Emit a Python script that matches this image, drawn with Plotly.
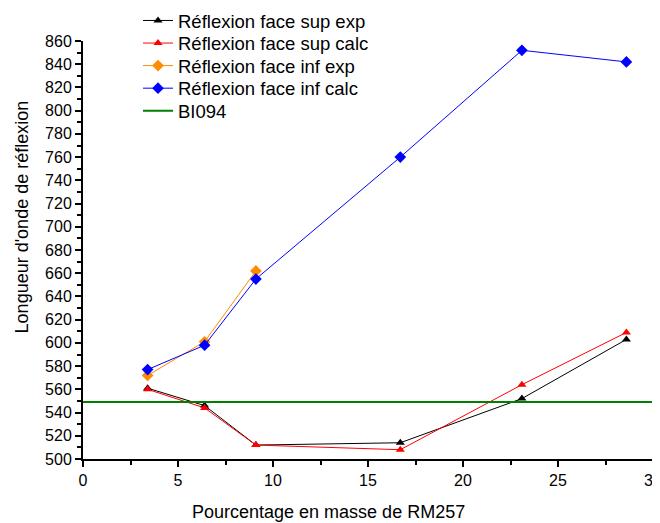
import plotly.graph_objects as go

# Pourcentage en masse de RM257
x_sup = [3.4, 6.4, 9.1, 16.7, 23.1, 28.6]
x_inf_exp = [3.4, 6.4, 9.1]
x_inf_calc = [3.4, 6.4, 9.1, 16.7, 23.1, 28.6]

sup_exp = [561, 546, 512, 514, 552, 603]
sup_calc = [560, 544, 512, 508, 564, 609]
inf_exp = [572, 601, 662]
inf_calc = [577, 598, 655, 760, 852, 842]

bl094 = 549
x_range = [0, 30]

FONT = "Arial, Liberation Sans, sans-serif"

fig = go.Figure()

series = [
    ("Réflexion face sup exp", x_sup, sup_exp, "black", "triangle-up", 8),
    ("Réflexion face sup calc", x_sup, sup_calc, "red", "triangle-up", 8),
    ("Réflexion face inf exp", x_inf_exp, inf_exp, "darkorange", "diamond", 9),
    ("Réflexion face inf calc", x_inf_calc, inf_calc, "blue", "diamond", 9),
]

# one small legend per entry so the rows sit as tight as in the original
legend_ids = ["legend", "legend2", "legend3", "legend4", "legend5"]
legend_y = [1.048, 0.994, 0.940, 0.886, 0.832]

for (name, xs, ys, col, sym, sz), lg in zip(series, legend_ids):
    fig.add_trace(go.Scatter(
        x=xs, y=ys, name=name, mode="lines+markers",
        line=dict(color=col, width=1),
        marker=dict(symbol=sym, size=sz, color=col),
        cliponaxis=False, legend=lg,
    ))

fig.add_trace(go.Scatter(
    x=x_range, y=[bl094, bl094], name="BI094", mode="lines",
    line=dict(color="green", width=2), legend=legend_ids[4],
))

legend_style = dict(x=0.0965, xanchor="left", yanchor="middle",
                    bgcolor="rgba(0,0,0,0)", font=dict(size=18.5))

fig.update_layout(
    width=660, height=523,
    # page body adds an 8px offset, margins are shifted to compensate
    margin=dict(l=75, r=15, t=33, b=72, autoexpand=False),
    plot_bgcolor="white", paper_bgcolor="white",
    font=dict(family=FONT, size=16, color="black"),
    showlegend=True,
    xaxis=dict(
        range=x_range, dtick=5, showgrid=False, zeroline=False, automargin=False,
        showline=True, linecolor="black", linewidth=2,
        ticks="outside", ticklen=6, tickwidth=2, tickcolor="black",
        minor=dict(ticks="outside", dtick=2.5, ticklen=4, tickwidth=1.5, tickcolor="black"),
    ),
    yaxis=dict(
        range=[500, 860], dtick=20, showgrid=False, zeroline=False, automargin=False,
        showline=True, linecolor="black", linewidth=2,
        ticks="outside", ticklen=6, tickwidth=2, tickcolor="black",
        minor=dict(ticks="outside", dtick=10, ticklen=4, tickwidth=1.5, tickcolor="black"),
    ),
)

for lg, ly in zip(legend_ids, legend_y):
    fig.update_layout({lg: dict(legend_style, y=ly)})

# axis titles sit off-centre in the original, so they are placed as annotations
fig.add_annotation(text="Pourcentage en masse de RM257", xref="paper", yref="paper",
                   x=0.43, y=-0.127, xanchor="center", yanchor="middle",
                   showarrow=False, font=dict(size=18))
fig.add_annotation(text="Longueur d'onde de réflexion", xref="paper", yref="paper",
                   x=-0.107, y=0.578, xanchor="center", yanchor="middle", textangle=-90,
                   showarrow=False, font=dict(size=18))

fig.write_html("out.html")
